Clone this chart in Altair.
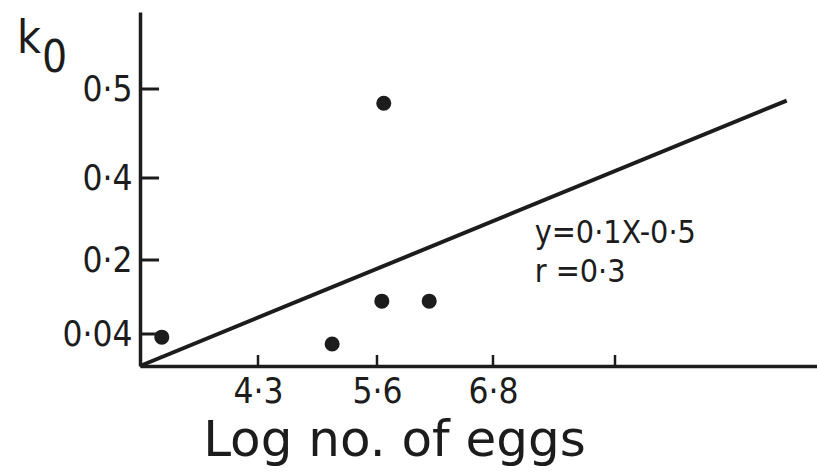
import altair as alt
import pandas as pd

# ---- data ----
x_vals = [3.24, 5.11, 5.65, 5.67, 6.14]
y_vals = [0.036, 0.0275, 0.111, 0.484, 0.111]
line_x = [3.0, 9.70]
line_y = [0.0, 0.487]
x_tick_vals = [4.3, 5.6, 6.8, 8.0]
x_label_vals = [4.3, 5.6, 6.8]
x_tick_labels = ["4·3", "5·6", "6·8"]
y_tick_vals = [0.04, 0.2, 0.4, 0.5]
y_tick_labels = ["0·04", "0·2", "0·4", "0·5"]
note_lines = ["y=0·1X-0·5", "r =0·3"]
note_x = [7.21, 7.21]
note_y = [0.241, 0.152]

INK = "#1c1c1c"
FONT = "DejaVu Sans Condensed, DejaVu Sans"
W, H = 677, 354

xscale = alt.Scale(domain=[3.0, 4.3, 5.6, 6.8, 8.0, 10.0],
                   range=[0, 118, 237, 353, 475, 677], zero=False, nice=False)
yscale = alt.Scale(domain=[0.0, 0.04, 0.2, 0.4, 0.5, 0.59],
                   range=[354, 322, 248, 166, 77, 0], zero=False, nice=False)


def label_expr(vals, labels):
    e = "''"
    for v, l in zip(vals, labels):
        e = f"abs(datum.value - {v}) < 1e-6 ? '{l}' : ({e})"
    return e


xaxis = alt.Axis(values=x_label_vals, labelExpr=label_expr(x_label_vals, x_tick_labels),
                 ticks=False, grid=False, domainColor=INK, domainWidth=3.5,
                 labelFont=FONT, labelFontSize=35, labelColor=INK, labelPadding=8,
                 title="Log no. of eggs", titleFont="DejaVu Sans", titleFontSize=50,
                 titleFontWeight="normal", titleColor=INK, titleX=254, titleY=89,
                 titleAlign="center", titleBaseline="alphabetic")
yaxis = alt.Axis(values=y_tick_vals, labelExpr=label_expr(y_tick_vals, y_tick_labels),
                 ticks=False, grid=False, domainColor=INK, domainWidth=3.5,
                 labelFont=FONT, labelFontSize=35, labelColor=INK, labelPadding=8,
                 title="")

pts = pd.DataFrame({"x": x_vals, "y": y_vals})
points = alt.Chart(pts).mark_circle(size=227, color=INK, opacity=1).encode(
    x=alt.X("x:Q", scale=xscale, axis=xaxis),
    y=alt.Y("y:Q", scale=yscale, axis=yaxis),
)

ln = pd.DataFrame({"x": line_x, "y": line_y})
line = alt.Chart(ln).mark_line(color=INK, strokeWidth=4).encode(
    x=alt.X("x:Q", scale=xscale),
    y=alt.Y("y:Q", scale=yscale),
)

xt = pd.DataFrame({"x": x_tick_vals})
xticks = alt.Chart(xt).mark_rule(color=INK, strokeWidth=2.5).encode(
    x=alt.X("x:Q", scale=xscale), y=alt.value(H), y2=alt.value(H - 11))

# inward y ticks as short horizontal segments (line segments, one per tick)
seg_rows = []
for i, v in enumerate(y_tick_vals):
    seg_rows.append({"id": i, "x": 3.0, "y": v})
    seg_rows.append({"id": i, "x": 3.21, "y": v})
yt = pd.DataFrame(seg_rows)
yticks = alt.Chart(yt).mark_line(color=INK, strokeWidth=3, strokeCap="butt").encode(
    x=alt.X("x:Q", scale=xscale),
    y=alt.Y("y:Q", scale=yscale),
    detail="id:N",
)

nt = pd.DataFrame({"x": note_x, "y": note_y, "t": note_lines})
notes = alt.Chart(nt).mark_text(align="left", baseline="alphabetic", font=FONT,
                                fontSize=32, color=INK).encode(
    x=alt.X("x:Q", scale=xscale), y=alt.Y("y:Q", scale=yscale), text="t:N")

k_lab = alt.Chart(pd.DataFrame({"t": ["k"]})).mark_text(
    align="left", baseline="alphabetic", font=FONT, fontSize=46, color=INK).encode(
    x=alt.value(-123), y=alt.value(41), text="t:N")
k_sub = alt.Chart(pd.DataFrame({"t": ["0"]})).mark_text(
    align="left", baseline="alphabetic", font=FONT, fontSize=44, color=INK).encode(
    x=alt.value(-98), y=alt.value(60), text="t:N")

chart = alt.layer(line, points, xticks, yticks, notes, k_lab, k_sub).properties(
    width=W, height=H,
    autosize=alt.AutoSizeParams(type="none"),
    padding={"left": 140, "top": 12, "right": 0, "bottom": 107},
    background="white",
).configure_view(stroke=None)

chart.save("out.html", embed_options={"renderer": "svg", "actions": False})
